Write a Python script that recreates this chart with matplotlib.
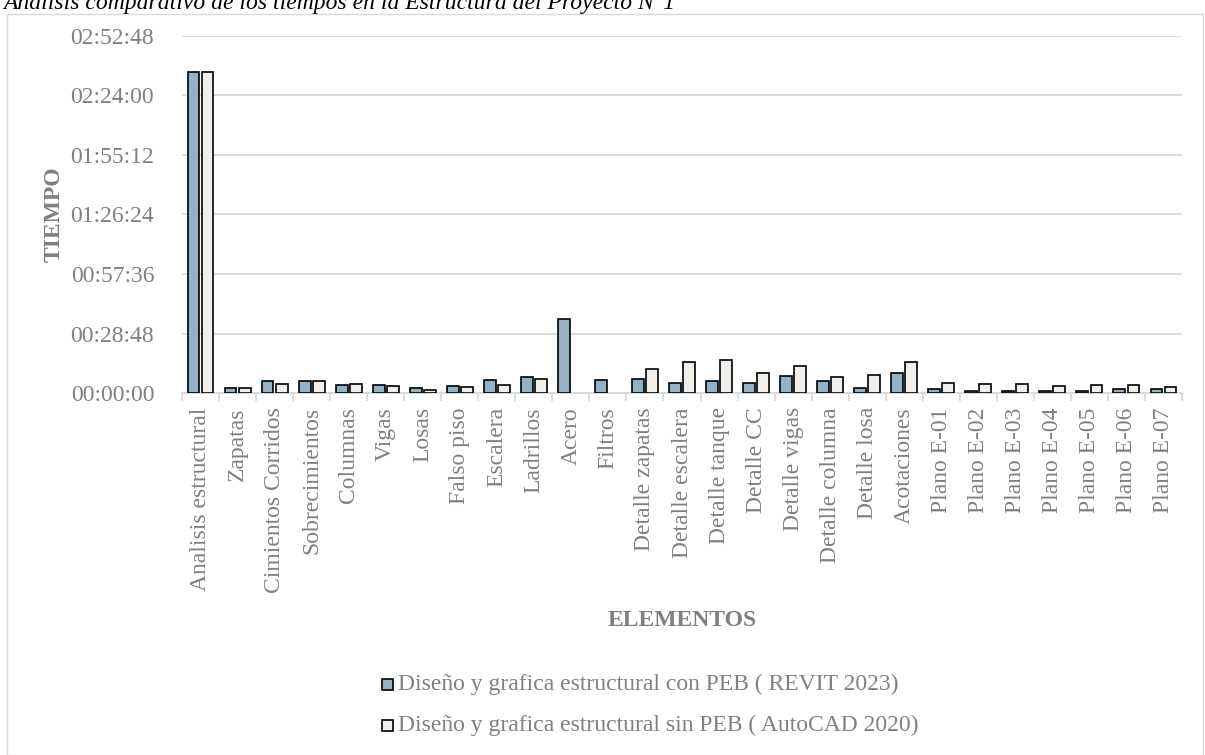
import matplotlib
matplotlib.use("Agg")
import matplotlib.pyplot as plt
from matplotlib.patches import Rectangle
from matplotlib.ticker import FuncFormatter, FixedLocator
import numpy as np

# tiempos en segundos
elementos = [
    "Analisis estructural", "Zapatas", "Cimientos Corridos", "Sobrecimientos",
    "Columnas", "Vigas", "Losas", "Falso piso", "Escalera", "Ladrillos",
    "Acero", "Filtros", "Detalle zapatas", "Detalle escalera", "Detalle tanque",
    "Detalle CC", "Detalle vigas", "Detalle columna", "Detalle losa",
    "Acotaciones", "Plano E-01", "Plano E-02", "Plano E-03", "Plano E-04",
    "Plano E-05", "Plano E-06", "Plano E-07",
]
revit = [9300, 140, 350, 370, 250, 230, 150, 210, 390, 470,
         2140, 390, 410, 290, 370, 290, 490, 370, 155, 600,
         135, 77, 58, 77, 58, 116, 135]
autocad = [9300, 155, 270, 350, 270, 210, 95, 175, 250, 425,
           0, 0, 715, 900, 960, 580, 790, 475, 530, 900,
           300, 260, 270, 215, 230, 230, 195]
serie_revit = "Diseño y grafica estructural con PEB ( REVIT 2023)"
serie_autocad = "Diseño y grafica estructural sin PEB ( AutoCAD 2020)"
titulo = "Analisis comparativo de los tiempos en la Estructura del Proyecto N°1"

plt.rcParams["font.family"] = ["Liberation Serif", "DejaVu Serif"]
GRAY = "#808080"
GRID = "#d9d9d9"
BLUE = "#94b2c4"
CREAM = "#f0efe9"

W, H = 1205, 755
fig = plt.figure(figsize=(W / 100, H / 100), dpi=100)

# marco del grafico
fig.patches.append(Rectangle((7 / W, 0), (1203 - 7) / W, 1 - 14 / H,
                             transform=fig.transFigure, fill=False,
                             edgecolor=GRID, linewidth=1.0))
fig.text(3 / W, 1 - 9 / H, titulo, ha="left", va="baseline", fontsize=17,
         style="italic", color="black")

ax = fig.add_axes([182 / W, 1 - 393.3 / H, 1000 / W, (393.3 - 35.5) / H])
x = np.arange(len(elementos))
bw = 0.32
# las barras de valor cero no se dibujan (como en Excel)
h_revit = np.where(np.array(revit) > 0, revit, np.nan)
h_autocad = np.where(np.array(autocad) > 0, autocad, np.nan)
ax.bar(x - 0.19, h_revit, bw, color=BLUE, edgecolor="black", linewidth=1.2, zorder=3)
ax.bar(x + 0.19, h_autocad, bw, color=CREAM, edgecolor="black", linewidth=1.2, zorder=3)

ax.set_xlim(-0.5, len(elementos) - 0.5)
ax.set_ylim(0, 10368)
ax.set_yticks(np.arange(0, 10369, 1728))


def hms(v, pos):
    v = int(round(v))
    return f"{v // 3600:02d}:{(v % 3600) // 60:02d}:{v % 60:02d}"


ax.yaxis.set_major_formatter(FuncFormatter(hms))
ax.grid(axis="y", color=GRID, linewidth=1.3, zorder=0)
for s in ["top", "right", "left"]:
    ax.spines[s].set_visible(False)
ax.spines["bottom"].set_color(GRID)
ax.spines["bottom"].set_linewidth(1.3)

ax.set_xticks(x)
ax.set_xticklabels(elementos, rotation=90, fontsize=17, color=GRAY)
ax.xaxis.set_minor_locator(FixedLocator(np.arange(-0.5, len(elementos), 1)))
ax.tick_params(axis="x", which="major", length=0, pad=10)
ax.tick_params(axis="x", which="minor", length=6, color=GRID, width=1.3)
ax.tick_params(axis="y", length=0, pad=20, labelsize=17, labelcolor=GRAY)

fig.text(54 / W, 1 - 214.5 / H, "TIEMPO", rotation=90, ha="center", va="center",
         fontsize=17, fontweight="bold", color=GRAY)
fig.text(682 / W, 1 - 620 / H, "ELEMENTOS", ha="center", va="center",
         fontsize=17, fontweight="bold", color=GRAY)

# leyenda
for yc, col, lab in [(684, BLUE, serie_revit), (725, CREAM, serie_autocad)]:
    fig.patches.append(Rectangle((382 / W, 1 - (yc + 5.5) / H), 11 / W, 11 / H,
                                 transform=fig.transFigure, facecolor=col,
                                 edgecolor="black", linewidth=1.2))
    fig.text(398 / W, 1 - yc / H, lab, ha="left", va="center", fontsize=17, color=GRAY)

fig.savefig("out.png", dpi=100)
